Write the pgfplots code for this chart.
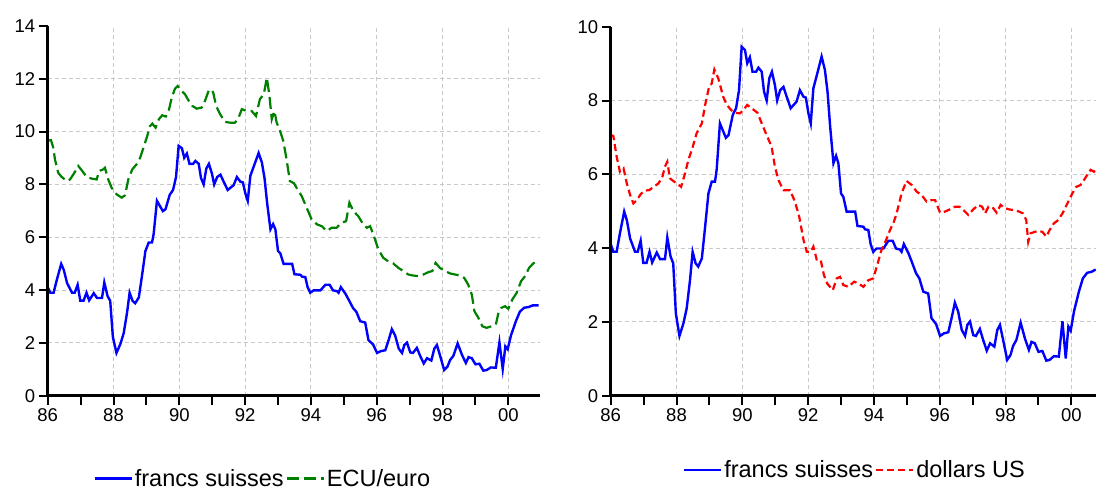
\documentclass[border=0pt]{standalone}
\usepackage{fontspec}
\setmainfont{Liberation Sans}
\usepackage{pgfplots}
\usepackage{pgfplotstable}
\pgfplotsset{compat=1.18}
\definecolor{fsblue}{RGB}{0,0,255}
\definecolor{ecugreen}{RGB}{0,128,0}
\definecolor{usred}{RGB}{255,0,0}
\definecolor{gridgray}{RGB}{200,200,200}

\pgfplotstableread{
x y
1986.00 4.11
1986.08 3.90
1986.18 3.90
1986.28 4.40
1986.41 4.99
1986.49 4.76
1986.59 4.26
1986.74 3.90
1986.82 3.90
1986.91 4.20
1986.99 3.60
1987.09 3.60
1987.18 3.90
1987.26 3.61
1987.40 3.88
1987.50 3.70
1987.65 3.70
1987.72 4.29
1987.82 3.77
1987.90 3.59
1987.98 2.23
1988.09 1.62
1988.21 1.96
1988.31 2.37
1988.41 3.13
1988.49 3.90
1988.58 3.59
1988.66 3.50
1988.77 3.72
1988.87 4.58
1988.97 5.48
1989.07 5.80
1989.17 5.80
1989.22 6.12
1989.32 7.38
1989.50 6.99
1989.58 7.06
1989.71 7.61
1989.81 7.79
1989.90 8.28
1989.98 9.46
1990.08 9.37
1990.15 9.01
1990.23 9.17
1990.31 8.78
1990.42 8.78
1990.49 8.89
1990.59 8.78
1990.66 8.24
1990.74 8.00
1990.82 8.60
1990.90 8.78
1990.99 8.42
1991.06 8.00
1991.15 8.28
1991.25 8.37
1991.35 8.10
1991.47 7.79
1991.65 7.97
1991.75 8.28
1991.86 8.10
1991.93 8.08
1992.01 7.65
1992.08 7.38
1992.16 8.33
1992.28 8.74
1992.41 9.19
1992.51 8.83
1992.59 8.24
1992.67 7.29
1992.77 6.30
1992.85 6.50
1992.92 6.30
1993.00 5.48
1993.07 5.39
1993.17 4.99
1993.43 4.99
1993.50 4.60
1993.68 4.58
1993.73 4.51
1993.83 4.49
1993.90 4.11
1993.98 3.90
1994.08 3.99
1994.29 3.99
1994.44 4.20
1994.57 4.20
1994.67 3.99
1994.79 3.96
1994.84 3.90
1994.91 4.11
1995.05 3.86
1995.15 3.63
1995.28 3.32
1995.38 3.18
1995.50 2.82
1995.65 2.77
1995.75 2.10
1995.89 1.94
1996.01 1.62
1996.13 1.69
1996.26 1.72
1996.36 2.10
1996.46 2.52
1996.56 2.28
1996.67 1.78
1996.77 1.62
1996.84 1.92
1996.92 2.01
1997.02 1.64
1997.10 1.62
1997.22 1.81
1997.32 1.51
1997.43 1.22
1997.53 1.42
1997.66 1.33
1997.75 1.78
1997.83 1.92
1997.93 1.50
1998.05 0.97
1998.15 1.10
1998.23 1.35
1998.33 1.51
1998.46 1.98
1998.59 1.55
1998.71 1.24
1998.79 1.46
1998.89 1.42
1999.00 1.19
1999.12 1.21
1999.24 0.95
1999.34 0.97
1999.47 1.07
1999.62 1.06
1999.73 2.02
1999.83 1.01
1999.91 1.87
1999.98 1.76
2000.08 2.28
2000.23 2.82
2000.35 3.18
2000.48 3.33
2000.62 3.36
2000.74 3.42
2000.92 3.42
}\fs

\pgfplotstableread{
x y
1986.00 9.65
1986.10 9.68
1986.17 9.39
1986.22 8.95
1986.32 8.44
1986.42 8.29
1986.58 8.13
1986.68 8.19
1986.81 8.44
1986.93 8.70
1987.05 8.51
1987.18 8.29
1987.34 8.22
1987.49 8.19
1987.56 8.51
1987.69 8.57
1987.74 8.63
1987.84 8.19
1987.94 7.88
1988.10 7.62
1988.25 7.50
1988.35 7.59
1988.45 8.19
1988.57 8.57
1988.70 8.76
1988.81 9.01
1988.91 9.39
1989.01 9.77
1989.11 10.21
1989.18 10.30
1989.28 10.15
1989.38 10.47
1989.48 10.62
1989.59 10.57
1989.69 10.85
1989.77 11.29
1989.87 11.63
1989.95 11.73
1990.07 11.54
1990.17 11.42
1990.29 11.16
1990.40 10.97
1990.53 10.87
1990.68 10.91
1990.78 11.16
1990.90 11.58
1990.98 11.58
1991.03 11.48
1991.12 10.97
1991.24 10.66
1991.39 10.37
1991.54 10.34
1991.69 10.34
1991.79 10.49
1991.90 10.85
1992.05 10.78
1992.20 10.78
1992.33 10.59
1992.45 11.23
1992.57 11.42
1992.66 12.05
1992.74 11.35
1992.81 10.47
1992.89 10.78
1992.96 10.34
1993.06 10.03
1993.16 9.65
1993.26 8.95
1993.36 8.13
1993.49 8.04
1993.59 7.81
1993.72 7.56
1993.87 7.12
1994.02 6.68
1994.18 6.49
1994.33 6.42
1994.48 6.23
1994.63 6.36
1994.78 6.36
1994.93 6.55
1995.07 6.61
1995.17 7.31
1995.29 6.99
1995.44 6.80
1995.59 6.49
1995.70 6.36
1995.80 6.42
1995.90 6.10
1996.05 5.54
1996.20 5.22
1996.35 5.09
1996.50 5.01
1996.66 4.84
1996.81 4.72
1996.96 4.59
1997.11 4.55
1997.26 4.53
1997.42 4.59
1997.57 4.68
1997.69 4.72
1997.79 5.03
1997.92 4.84
1998.08 4.72
1998.23 4.63
1998.38 4.59
1998.53 4.55
1998.66 4.46
1998.78 4.21
1998.89 3.83
1998.97 3.20
1999.09 2.95
1999.21 2.63
1999.34 2.57
1999.49 2.63
1999.62 2.69
1999.70 3.14
1999.78 3.32
1999.90 3.39
2000.00 3.29
2000.12 3.64
2000.25 3.89
2000.39 4.34
2000.51 4.53
2000.63 4.84
2000.76 5.01
2000.91 5.16
}\ecu

\pgfplotstableread{
x y
1986.00 7.06
1986.08 7.04
1986.18 6.48
1986.28 6.07
1986.39 6.16
1986.49 5.75
1986.59 5.44
1986.69 5.21
1986.79 5.30
1986.92 5.47
1987.04 5.56
1987.17 5.57
1987.30 5.66
1987.45 5.75
1987.57 5.93
1987.65 6.21
1987.72 6.34
1987.80 5.89
1987.90 5.82
1988.01 5.75
1988.14 5.66
1988.26 6.03
1988.36 6.39
1988.48 6.70
1988.61 7.11
1988.77 7.38
1988.87 7.88
1988.99 8.37
1989.07 8.46
1989.15 8.84
1989.27 8.60
1989.42 8.10
1989.53 7.88
1989.66 7.74
1989.78 7.67
1989.93 7.65
1990.03 7.74
1990.15 7.88
1990.28 7.79
1990.46 7.67
1990.59 7.38
1990.74 7.06
1990.89 6.75
1990.99 6.21
1991.10 5.84
1991.25 5.57
1991.45 5.57
1991.60 5.26
1991.73 4.85
1991.86 4.22
1991.96 3.90
1992.08 3.90
1992.16 4.04
1992.26 3.69
1992.38 3.69
1992.48 3.27
1992.58 3.04
1992.75 2.86
1992.87 3.18
1992.97 3.22
1993.07 3.00
1993.22 2.95
1993.40 3.09
1993.53 3.04
1993.68 2.95
1993.83 3.13
1993.98 3.18
1994.10 3.54
1994.23 3.95
1994.37 4.22
1994.49 4.49
1994.61 4.72
1994.69 4.94
1994.84 5.48
1994.99 5.82
1995.15 5.71
1995.30 5.53
1995.45 5.44
1995.60 5.26
1995.75 5.30
1995.86 5.30
1996.01 4.96
1996.16 4.99
1996.31 5.05
1996.46 5.12
1996.60 5.12
1996.72 5.03
1996.87 4.90
1997.02 5.05
1997.17 5.17
1997.29 5.12
1997.38 4.94
1997.48 5.12
1997.63 5.08
1997.73 4.96
1997.85 5.17
1997.95 5.10
1998.10 5.05
1998.26 5.03
1998.41 4.99
1998.53 4.94
1998.63 4.76
1998.69 4.17
1998.76 4.40
1998.89 4.44
1999.00 4.47
1999.12 4.44
1999.24 4.31
1999.34 4.49
1999.47 4.67
1999.60 4.76
1999.73 4.94
1999.83 5.12
1999.93 5.30
2000.03 5.48
2000.15 5.66
2000.28 5.71
2000.38 5.84
2000.48 5.98
2000.59 6.12
2000.69 6.07
2000.75 6.16
}\usd

\pgfplotsset{
 base/.style={
  scale only axis,
  clip=false,
  unbounded coords=jump,
  xmin=1986, ymin=0,
  axis x line=bottom, axis y line=left,
  axis line style={-, line width=3.5pt},
  tick align=outside, major tick length=9pt,
  tick style={line width=2pt, black},
  xtick={1986,1988,...,2000}, minor xtick={1987,1989,...,1999},
  xticklabels={86,88,90,92,94,96,98,00},
  grid=major,
  major grid style={gridgray, line width=0.9pt, dash pattern=on 4pt off 3pt},
  extra y tick style={grid=none},
  ticklabel style={font=\fontsize{18.5}{20}\selectfont},
  /pgf/number format/assume math mode=true,
  legend style={draw=none, fill=none, font=\fontsize{23.5}{25}\selectfont,
    legend columns=-1},
  legend image code/.code={\draw[##1] (0pt,0pt) -- (37pt,0pt);},
 },
 axisline/.style={black, line width=3.5pt, forget plot, line join=miter},
 tickline/.style={black, line width=2pt, forget plot},
}

\begin{document}
\begin{tikzpicture}
\useasboundingbox (0,0) rectangle (1097pt,491pt);
\begin{axis}[base,
  at={(47.7pt,95.3pt)}, anchor=south west,
  width=492.2pt, height=369.7pt,
  xmax=2000.96, ymax=14,
  ytick={0,2,...,12}, extra y ticks={14},
  legend style={at={(0.437,-0.224)}, anchor=center}]
\addplot[fsblue, line width=2.4pt] table[x=x,y=y] {\fs};
\addlegendentry{francs suisses}
\addplot[ecugreen, line width=2.2pt, dash pattern=on 12pt off 5pt] table[x=x,y=y] {\ecu};
\addlegendentry{ECU/euro}
% axis lines and tick marks, drawn heavy
\addplot[tickline] coordinates {
(1986,0) (1986,-0.34) (1986.5,nan) (1987,0) (1987,-0.34) (1987.5,nan)
(1988,0) (1988,-0.34) (1988.5,nan) (1989,0) (1989,-0.34) (1989.5,nan)
(1990,0) (1990,-0.34) (1990.5,nan) (1991,0) (1991,-0.34) (1991.5,nan)
(1992,0) (1992,-0.34) (1992.5,nan) (1993,0) (1993,-0.34) (1993.5,nan)
(1994,0) (1994,-0.34) (1994.5,nan) (1995,0) (1995,-0.34) (1995.5,nan)
(1996,0) (1996,-0.34) (1996.5,nan) (1997,0) (1997,-0.34) (1997.5,nan)
(1998,0) (1998,-0.34) (1998.5,nan) (1999,0) (1999,-0.34) (1999.5,nan)
(2000,0) (2000,-0.34)};
\addplot[tickline] coordinates {
(1986,0) (1985.726,0) (1986,nan) (1986,2) (1985.726,2) (1986,nan)
(1986,4) (1985.726,4) (1986,nan) (1986,6) (1985.726,6) (1986,nan)
(1986,8) (1985.726,8) (1986,nan) (1986,10) (1985.726,10) (1986,nan)
(1986,12) (1985.726,12) (1986,nan) (1986,14) (1985.726,14)};
\addplot[axisline] coordinates {(1986,14) (1986,0) (2000.96,0)};
\end{axis}
\begin{axis}[base,
  at={(610.7pt,95.3pt)}, anchor=south west,
  width=485.3pt, height=369pt,
  xmax=2000.75, ymax=10,
  ytick={0,2,...,8}, extra y ticks={10},
  legend style={at={(0.503,-0.201)}, anchor=center}]
\addplot[fsblue, line width=2.4pt, restrict x to domain=1986:2000.75] table[x=x,y=y] {\fs};
\addlegendentry{francs suisses}
\addplot[usred, line width=2.2pt, dash pattern=on 7pt off 4pt] table[x=x,y=y] {\usd};
\addlegendentry{dollars US}
\addplot[tickline] coordinates {
(1986,0) (1986,-0.244) (1986.5,nan) (1987,0) (1987,-0.244) (1987.5,nan)
(1988,0) (1988,-0.244) (1988.5,nan) (1989,0) (1989,-0.244) (1989.5,nan)
(1990,0) (1990,-0.244) (1990.5,nan) (1991,0) (1991,-0.244) (1991.5,nan)
(1992,0) (1992,-0.244) (1992.5,nan) (1993,0) (1993,-0.244) (1993.5,nan)
(1994,0) (1994,-0.244) (1994.5,nan) (1995,0) (1995,-0.244) (1995.5,nan)
(1996,0) (1996,-0.244) (1996.5,nan) (1997,0) (1997,-0.244) (1997.5,nan)
(1998,0) (1998,-0.244) (1998.5,nan) (1999,0) (1999,-0.244) (1999.5,nan)
(2000,0) (2000,-0.244)};
\addplot[tickline] coordinates {
(1986,0) (1985.726,0) (1986,nan) (1986,2) (1985.726,2) (1986,nan)
(1986,4) (1985.726,4) (1986,nan) (1986,6) (1985.726,6) (1986,nan)
(1986,8) (1985.726,8) (1986,nan) (1986,10) (1985.726,10)};
\addplot[axisline] coordinates {(1986,10) (1986,0) (2000.75,0)};
\end{axis}
\end{tikzpicture}
\end{document}
